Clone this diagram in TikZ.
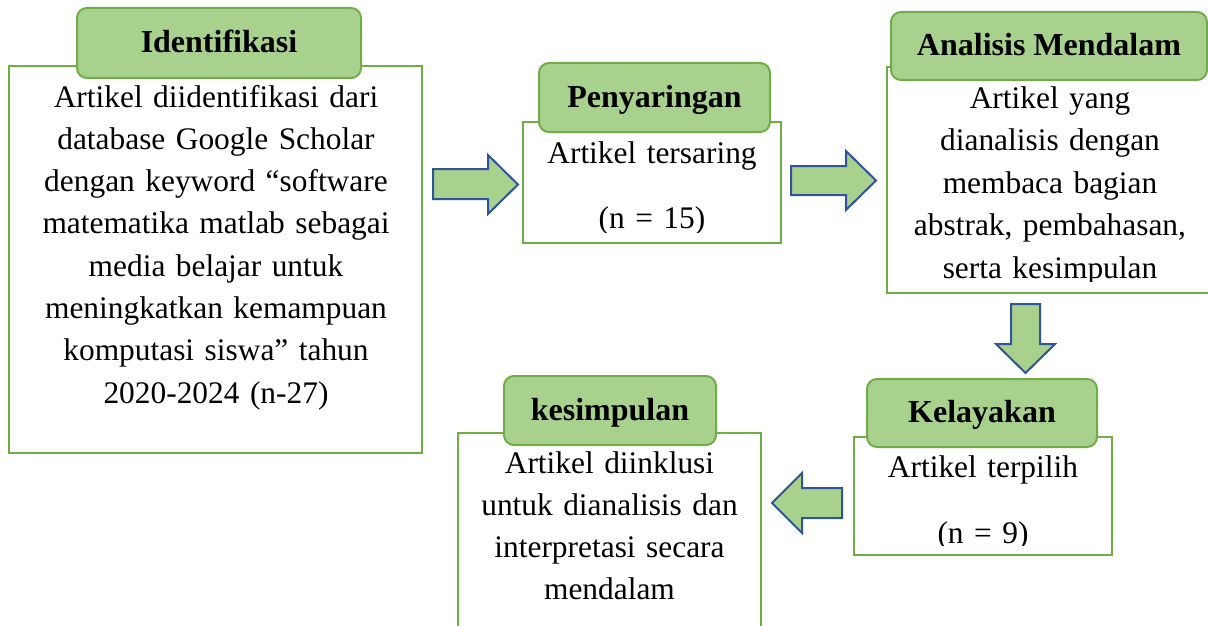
\documentclass[tikz,border=0pt]{standalone}
\usepackage{fontspec}
\setmainfont{Liberation Serif}
\definecolor{hdrfill}{HTML}{A9D18E}
\definecolor{grn}{HTML}{70AD47}
\definecolor{arrblue}{HTML}{2F5597}
\tikzset{
  bodybox/.style={draw=grn, line width=2pt, fill=white, rectangle, inner sep=0pt, outer sep=0pt},
  hdrbox/.style={draw=grn, line width=2pt, fill=hdrfill, rectangle, rounded corners=10pt,
    inner sep=0pt, outer sep=0pt, text height=22pt, text depth=3pt,
    font=\fontsize{32}{38}\selectfont\bfseries},
  blockarrow/.style={draw=arrblue, line width=2pt, fill=hdrfill, line join=miter},
  bodytext/.style={font=\fontsize{31.4}{42.3}\selectfont, align=center, text width=420pt,
    inner sep=0pt, anchor=base}
}
\begin{document}
\begin{tikzpicture}[x=1pt,y=-1pt]
\useasboundingbox[fill=white] (0,0) rectangle (1208,626);

% bodies
\node[bodybox, minimum width=413pt, minimum height=387pt] (b1) at (215.5,259.5) {};
\node[bodybox, minimum width=258pt, minimum height=121pt] (b2) at (652,182.5) {};
\node[bodybox, minimum width=327pt, minimum height=226pt] (b3) at (1050.5,180) {};
\node[bodybox, minimum width=258pt, minimum height=118pt] (b4) at (983,496) {};
\node[bodybox, minimum width=303pt, minimum height=207pt] (b5) at (609.5,536.5) {};

% headers
\node[hdrbox, minimum width=284pt, minimum height=70pt] (h1) at (219,43) {Identifikasi};
\node[hdrbox, minimum width=231pt, minimum height=69pt] (h2) at (654.5,97.5) {Penyaringan};
\node[hdrbox, minimum width=316pt, minimum height=68pt] (h3) at (1049,46) {Analisis Mendalam};
\node[hdrbox, minimum width=230pt, minimum height=68pt] (h4) at (982,413) {Kelayakan};
\node[hdrbox, minimum width=212pt, minimum height=69pt] (h5) at (610,410.5) {kesimpulan};

% texts
\node[bodytext] (t1) at (216,107) {Artikel diidentifikasi dari\\database Google Scholar\\dengan keyword “software\\matematika matlab sebagai\\media belajar untuk\\meningkatkan kemampuan\\komputasi siswa” tahun\\2020-2024 (n-27)};
\begin{scope}
\clip (524,133) rectangle (780,232);
\node[bodytext] (t2) at (652,163) {Artikel tersaring\\[22.7pt](n = 15)};
\end{scope}
\begin{scope}
\clip (888,81) rectangle (1208,281);
\node[bodytext, font=\fontsize{31.4}{42.6}\selectfont] (t3) at (1050,108) {Artikel yang\\dianalisis dengan\\membaca bagian\\abstrak, pembahasan,\\serta kesimpulan};
\end{scope}
\begin{scope}
\clip (855,448) rectangle (1111,545);
\node[bodytext] (t4) at (983,477) {Artikel terpilih\\[23.7pt](n = 9)};
\end{scope}
\node[bodytext] (t5) at (609.5,473) {Artikel diinklusi\\untuk dianalisis dan\\interpretasi secara\\mendalam};

% block arrows
\draw[blockarrow] (433,169) -- (488,169) -- (488,155) -- (518,184.5) -- (488,214) -- (488,199) -- (433,199) -- cycle;
\draw[blockarrow] (791,166) -- (846,166) -- (846,151) -- (876,180.5) -- (846,210) -- (846,195) -- (791,195) -- cycle;
\draw[blockarrow] (1011,304) -- (1040,304) -- (1040,344) -- (1055,344) -- (1025.5,373) -- (996,344) -- (1011,344) -- cycle;
\draw[blockarrow] (842,488) -- (802,488) -- (802,473) -- (772,503) -- (802,533) -- (802,518) -- (842,518) -- cycle;
\end{tikzpicture}
\end{document}
